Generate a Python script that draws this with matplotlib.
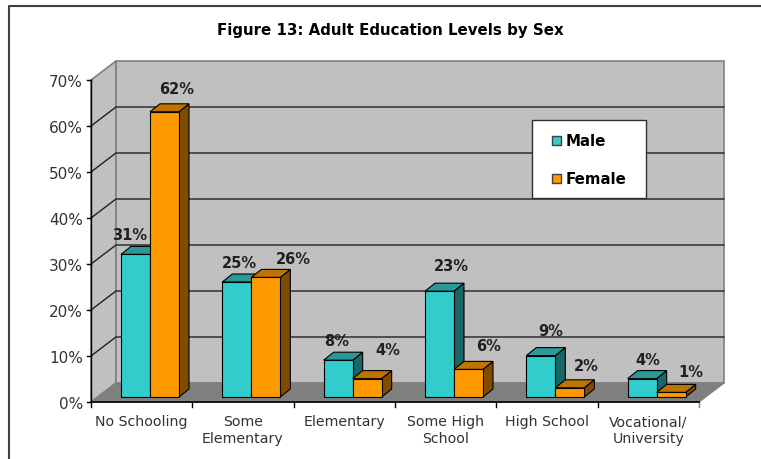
import matplotlib
matplotlib.use("Agg")
import matplotlib.pyplot as plt
from matplotlib.patches import Polygon, Rectangle

# Valores
categorias = ["No Schooling", "Some\nElementary", "Elementary",
              "Some High\nSchool", "High School", "Vocational/\nUniversity"]
male = [31, 25, 8, 23, 9, 4]
female = [62, 26, 4, 6, 2, 1]
ticks_y = [0, 10, 20, 30, 40, 50, 60, 70]

# Desplazamiento de cada etiqueta respecto a su barra, en pixeles (dx, dy)
etiq_male = [(-6, 19), (3, 18), (-2, 19), (12, 25), (10, 24), (6, 18)]
etiq_female = [(12, 22), (28, 18), (21, 28), (20, 23), (16, 21), (20, 20)]

ANCHO, ALTO = 761, 459
PX_CAT = 101.33   # pixeles por categoria
PX_PCT = 4.6      # pixeles por punto porcentual
X0, Y0 = 91, 402  # origen del eje en pixeles

# profundidad del piso y de las barras, en unidades de datos
DX, DY = 25 / PX_CAT, 19 / PX_PCT
BDX, BDY = 10 / PX_CAT, 8 / PX_PCT
BASE = 5 / PX_PCT           # frente de la barra sobre el piso
ANCHO_BARRA = 29 / PX_CAT
MARGEN = 30 / PX_CAT

CIAN = ("#33CCCC", "#299999", "#1A6666")
NARANJA = ("#FF9900", "#BF7300", "#804D00")

fig = plt.figure(figsize=(ANCHO / 100, ALTO / 100), dpi=100)
ax = fig.add_axes([0, 0, 1, 1])
ax.set_xlim(-X0 / PX_CAT, (ANCHO - X0) / PX_CAT)
ax.set_ylim((Y0 - ALTO) / PX_PCT, Y0 / PX_PCT)
ax.axis("off")

n = len(categorias)
tope = ticks_y[-1]

# Marco del grafico: solo se ven el lado izquierdo y el superior
marco_x = (9 - X0) / PX_CAT
marco_y = (Y0 - 6) / PX_PCT
ax.plot([marco_x, marco_x, (ANCHO - X0) / PX_CAT], [(Y0 - ALTO) / PX_PCT, marco_y, marco_y],
        color="#404040", lw=1.5, zorder=1)

# Paredes y piso
gris = "#C0C0C0"
borde = "#808080"
ax.add_patch(Polygon([(0, 0), (DX, DY), (DX, tope + DY), (0, tope)],
                     fc=gris, ec=borde, lw=1.2, zorder=1))
ax.add_patch(Polygon([(DX, DY), (n + DX, DY), (n + DX, tope + DY), (DX, tope + DY)],
                     fc=gris, ec=borde, lw=1.2, zorder=1))
ax.add_patch(Polygon([(0, 0), (n, 0), (n + DX, DY), (DX, DY)],
                     fc=borde, ec=borde, lw=1, zorder=1))

# Lineas de grilla
for t in ticks_y[1:-1]:
    ax.plot([0, DX, n + DX], [t, t + DY, t + DY], color="#202020", lw=1, zorder=2)

# Ejes y marcas
ax.plot([0, 0], [0, tope], color="black", lw=1, zorder=2)
ax.plot([0, n], [0, 0], color="black", lw=1.2, zorder=6)
for t in ticks_y:
    ax.plot([-4 / PX_CAT, 0], [t, t], color="black", lw=1, zorder=2)
    ax.text(-8 / PX_CAT, t - 2.5 / PX_PCT, f"{t}%", ha="right", va="center", fontsize=11,
            family="DejaVu Sans", color="#333333")
for i in range(n + 1):
    ax.plot([i, i], [0, -5 / PX_PCT], color="black" if i < n else borde, lw=1, zorder=2)
for i, c in enumerate(categorias):
    ax.text(i + 0.5, -13 / PX_PCT, c, ha="center", va="top", fontsize=10.2,
            family="DejaVu Sans", color="#333333", linespacing=1.3)


def barra(x, valor, colores, z):
    """Dibuja una barra 3D: frente, techo y lado."""
    f, t, s = colores
    x1 = x + ANCHO_BARRA
    y1 = BASE + valor
    ax.add_patch(Polygon([(x1, BASE), (x1 + BDX, BASE + BDY), (x1 + BDX, y1 + BDY), (x1, y1)],
                         fc=s, ec="black", lw=0.8, zorder=z))
    ax.add_patch(Polygon([(x, y1), (x1, y1), (x1 + BDX, y1 + BDY), (x + BDX, y1 + BDY)],
                         fc=t, ec="black", lw=0.8, zorder=z))
    ax.add_patch(Rectangle((x, BASE), ANCHO_BARRA, valor, fc=f, ec="black", lw=0.8, zorder=z))


def etiqueta(xc, valor, desp):
    ax.text(xc + desp[0] / PX_CAT, BASE + valor + desp[1] / PX_PCT, f"{valor}%",
            ha="center", va="center", fontsize=10.5, fontweight="bold",
            family="DejaVu Sans", color="#202020", zorder=7)


for i in range(n):
    xm = i + MARGEN
    barra(xm, male[i], CIAN, 3)
    barra(xm + ANCHO_BARRA, female[i], NARANJA, 4)
    etiqueta(xm + 0.5 * ANCHO_BARRA, male[i], etiq_male[i])
    etiqueta(xm + 1.5 * ANCHO_BARRA, female[i], etiq_female[i])

# Titulo
ax.text((390 - X0) / PX_CAT, (Y0 - 30) / PX_PCT, "Figure 13: Adult Education Levels by Sex",
        ha="center", va="center", fontsize=10.8, fontweight="bold", family="DejaVu Sans")

# Leyenda
ax.add_patch(Rectangle(((532 - X0) / PX_CAT, (Y0 - 198) / PX_PCT), 114 / PX_CAT, 78 / PX_PCT,
                       fc="white", ec="#303030", lw=1, zorder=8))
for nombre, col, py in [("Male", CIAN[0], 141), ("Female", NARANJA[0], 179)]:
    ax.add_patch(Rectangle(((552 - X0) / PX_CAT, (Y0 - py - 4) / PX_PCT), 9 / PX_CAT, 9 / PX_PCT,
                           fc=col, ec="#404040", lw=1, zorder=9))
    ax.text((566 - X0) / PX_CAT, (Y0 - py) / PX_PCT, nombre, ha="left", va="center",
            fontsize=10.8, fontweight="bold", family="DejaVu Sans", zorder=9)

fig.savefig("out.png", dpi=100)
